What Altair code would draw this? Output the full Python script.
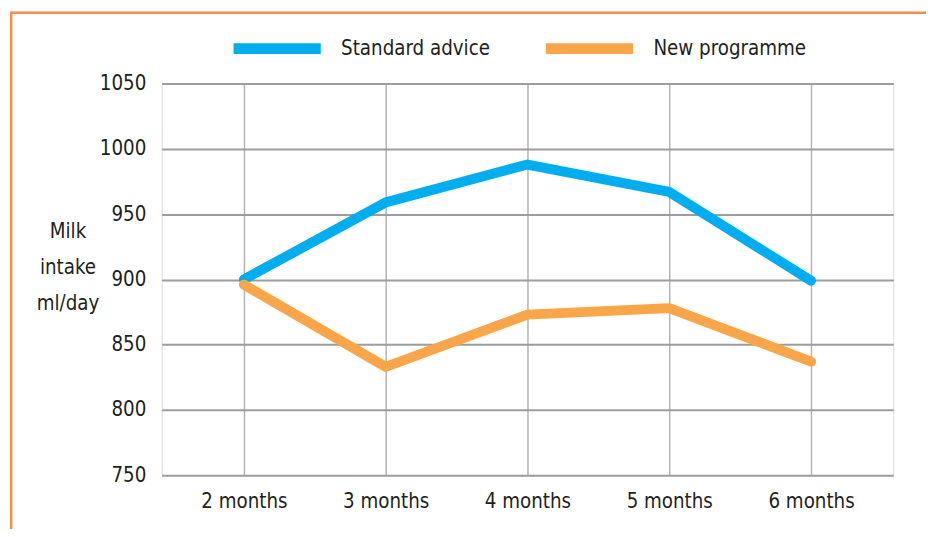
import altair as alt
import pandas as pd

months = ["2 months", "3 months", "4 months", "5 months", "6 months"]
series_names = ["Standard advice", "New programme"]
standard_advice = [900, 959, 988, 967, 899]
new_programme = [896, 833, 873, 878, 837]
y_ticks = [750, 800, 850, 900, 950, 1000, 1050]

rows = []
for m, v in zip(months, standard_advice):
    rows.append({"month": m, "series": series_names[0], "value": v})
for m, v in zip(months, new_programme):
    rows.append({"month": m, "series": series_names[1], "value": v})
df = pd.DataFrame(rows)

FONT = "DejaVu Sans Condensed"
FS = 20.5
TXT = "#231F20"
BORDER = "#F98B4B"

lines = alt.Chart(df).mark_line(strokeWidth=10, strokeCap="round", strokeJoin="round").encode(
    x=alt.X("month:N", sort=months,
            scale=alt.Scale(type="point", padding=0.58),
            axis=alt.Axis(title=None, grid=True, gridColor="#b3b3b3", gridWidth=1.5,
                          domain=False, ticks=False, labelFontSize=FS, labelFont=FONT,
                          labelColor=TXT, labelPadding=17, labelAngle=0)),
    y=alt.Y("value:Q", scale=alt.Scale(domain=[750, 1050], nice=False, zero=False),
            axis=alt.Axis(values=y_ticks, format="d", title=["Milk", "intake", "ml/day"],
                          titleAngle=0, titleX=-95, titleY=155, titleAlign="center",
                          titleBaseline="alphabetic", titleFontSize=FS, titleFont=FONT,
                          titleFontWeight="normal", titleColor=TXT, titleLineHeight=36.5,
                          grid=True, gridColor="#9d9d9f", gridWidth=2,
                          domain=False, ticks=False, labelFontSize=FS, labelFont=FONT,
                          labelColor=TXT, labelPadding=16)),
    color=alt.Color("series:N",
                    scale=alt.Scale(domain=series_names, range=["#00AEEF", "#F9A54A"]),
                    legend=alt.Legend(orient="none", legendX=67, legendY=-85,
                                      direction="horizontal", title=None,
                                      symbolType="stroke", symbolStrokeWidth=11,
                                      symbolSize=7744, labelFontSize=FS, labelFont=FONT,
                                      labelColor=TXT, labelOffset=15, columnPadding=33,
                                      labelLimit=400, padding=0)),
)

frame = pd.DataFrame({"k": [0]})
top_rule = alt.Chart(frame).mark_rule(color=BORDER, strokeWidth=2.5).encode(
    x=alt.value(-152), x2=alt.value(771), y=alt.value(-71.5))
left_rule = alt.Chart(frame).mark_rule(color=BORDER, strokeWidth=2.5).encode(
    x=alt.value(-151.8), y=alt.value(-72.7), y2=alt.value(455))

chart = alt.layer(lines, top_rule, left_rule).properties(
    width=738, height=395,
    autosize=alt.AutoSizeParams(type="none"),
    padding={"left": 155, "top": 74, "right": 33, "bottom": 52},
).configure_view(stroke="#9d9d9f", strokeWidth=2.5).configure(background="white")

chart.save("out.html", embed_options={"renderer": "svg", "actions": False})
